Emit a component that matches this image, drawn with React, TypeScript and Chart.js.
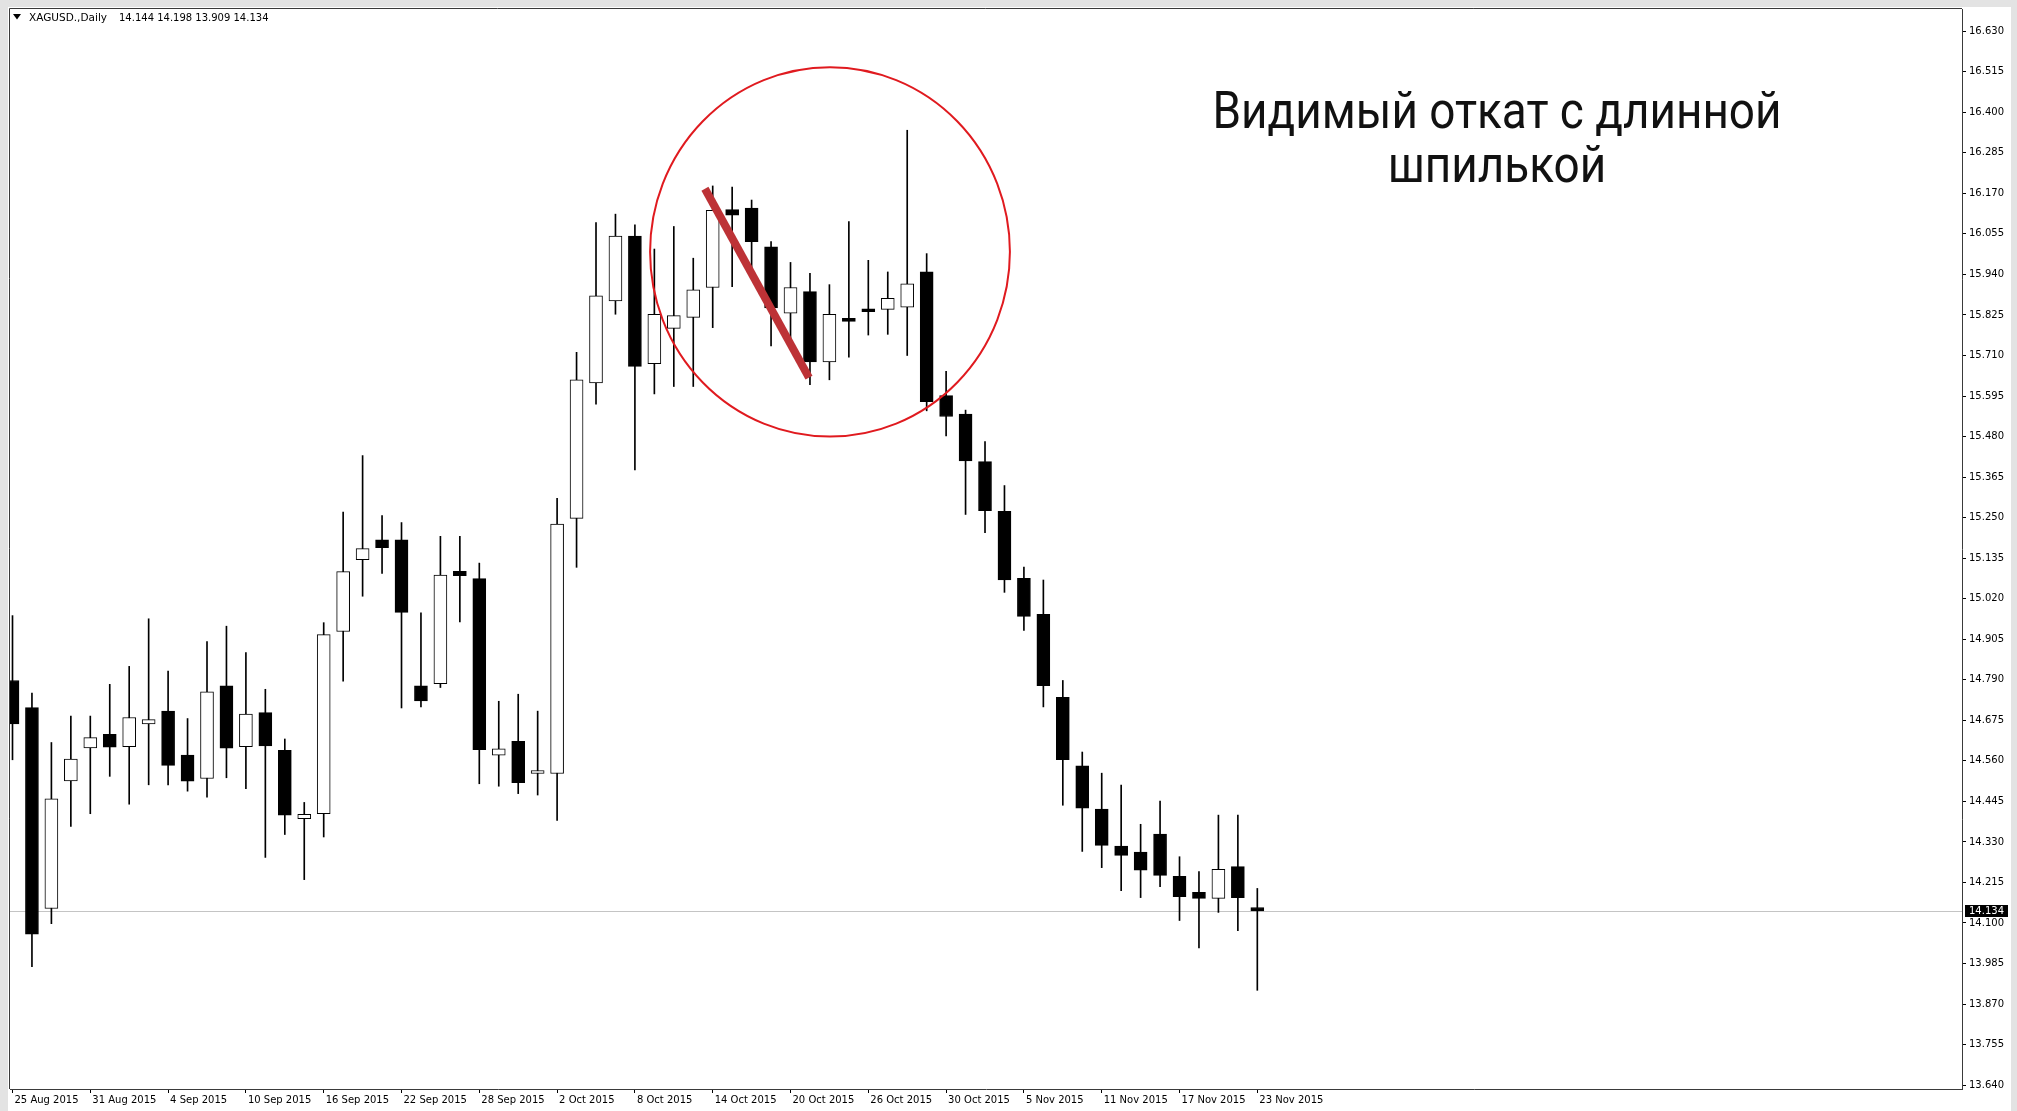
import React, { useEffect, useRef } from 'react';
import { Chart, registerables } from 'chart.js';

Chart.register(...registerables);

// ---- Data (XAGUSD daily, 25 Aug 2015 – 23 Nov 2015, one entry per trading day) ----
const OPEN = [
  14.788, 14.711, 14.141, 14.503, 14.597, 14.635, 14.600, 14.665, 14.701, 14.576,
  14.510, 14.773, 14.600, 14.697, 14.590, 14.396, 14.410, 14.927, 15.131, 15.187,
  15.187, 14.773, 14.779, 15.098, 15.077, 14.576, 14.615, 14.524, 14.524, 15.248,
  15.632, 15.865, 16.049, 15.687, 15.787, 15.818, 15.903, 16.124, 16.128, 16.018,
  15.830, 15.891, 15.692, 15.815, 15.839, 15.841, 15.847, 15.947, 15.596, 15.544,
  15.409, 15.268, 15.078, 14.976, 14.740, 14.546, 14.423, 14.318, 14.301, 14.352,
  14.232, 14.187, 14.170, 14.260, 14.144,
];
const HIGH = [
  14.972, 14.752, 14.612, 14.687, 14.687, 14.777, 14.828, 14.963, 14.815, 14.680,
  14.898, 14.942, 14.867, 14.763, 14.622, 14.442, 14.952, 15.266, 15.426, 15.256,
  15.236, 14.980, 15.197, 15.197, 15.121, 14.729, 14.749, 14.701, 15.305, 15.719,
  16.087, 16.111, 16.081, 16.012, 16.076, 15.986, 16.191, 16.188, 16.151, 16.033,
  15.974, 15.943, 15.911, 16.090, 15.980, 15.947, 16.349, 15.999, 15.665, 15.555,
  15.466, 15.341, 15.110, 15.073, 14.788, 14.585, 14.525, 14.491, 14.380, 14.446,
  14.288, 14.246, 14.406, 14.406, 14.198,
];
const LOW = [
  14.563, 13.976, 14.098, 14.374, 14.410, 14.516, 14.437, 14.492, 14.492, 14.474,
  14.457, 14.512, 14.481, 14.286, 14.351, 14.223, 14.344, 14.786, 15.027, 15.092,
  14.710, 14.713, 14.768, 14.954, 14.495, 14.488, 14.467, 14.463, 14.391, 15.109,
  15.572, 15.827, 15.385, 15.601, 15.622, 15.622, 15.789, 15.905, 15.950, 15.737,
  15.750, 15.627, 15.641, 15.705, 15.768, 15.770, 15.710, 15.553, 15.482, 15.259,
  15.207, 15.038, 14.930, 14.713, 14.434, 14.303, 14.257, 14.192, 14.172, 14.203,
  14.107, 14.029, 14.130, 14.078, 13.909,
];
const CLOSE = [
  14.665, 14.068, 14.452, 14.565, 14.626, 14.599, 14.683, 14.677, 14.547, 14.502,
  14.756, 14.596, 14.693, 14.602, 14.406, 14.408, 14.918, 15.097, 15.162, 15.165,
  14.981, 14.730, 15.087, 15.085, 14.592, 14.594, 14.498, 14.532, 15.232, 15.641,
  15.879, 16.049, 15.679, 15.827, 15.823, 15.896, 16.122, 16.108, 16.033, 15.845,
  15.903, 15.692, 15.827, 15.807, 15.834, 15.872, 15.913, 15.579, 15.537, 15.411,
  15.270, 15.073, 14.970, 14.773, 14.563, 14.426, 14.320, 14.292, 14.250, 14.235,
  14.175, 14.170, 14.252, 14.172, 14.134,
];

const DATE_TICK_INDEX = [0, 4, 8, 12, 16, 20, 24, 28, 32, 36, 40, 44, 48, 52, 56, 60, 64];
const DATE_TICK_LABELS = [
  '25 Aug 2015', '31 Aug 2015', '4 Sep 2015', '10 Sep 2015', '16 Sep 2015', '22 Sep 2015',
  '28 Sep 2015', '2 Oct 2015', '8 Oct 2015', '14 Oct 2015', '20 Oct 2015', '26 Oct 2015',
  '30 Oct 2015', '5 Nov 2015', '11 Nov 2015', '17 Nov 2015', '23 Nov 2015',
];
const PRICE_TICKS = [
  13.640, 13.755, 13.870, 13.985, 14.100, 14.215, 14.330, 14.445, 14.560, 14.675,
  14.790, 14.905, 15.020, 15.135, 15.250, 15.365, 15.480, 15.595, 15.710, 15.825,
  15.940, 16.055, 16.170, 16.285, 16.400, 16.515, 16.630,
];

const SYMBOL_TITLE = 'XAGUSD.,Daily';
const ANNOTATION_LINES = ['Видимый откат с длинной', 'шпилькой'];
// annotation marks in data units (bar index, price)
const RETRACE_FROM = { x: 35.6, y: 16.183 };
const RETRACE_TO = { x: 40.95, y: 15.647 };
const CIRCLE_CENTER = { x: 42.03, y: 16.004 };
const CIRCLE_RADIUS = { x: 9.25, y: 0.524 };

const X_MIN = -0.1285;
const X_MAX = 100.23;
const Y_MIN = 13.629;
const Y_MAX = 16.693;

const AXIS_FONT = '"DejaVu Sans", sans-serif';
const BORDER = '#3a3a3a';

export default function App() {
  const ref = useRef<HTMLCanvasElement>(null);

  useEffect(() => {
    const canvas = ref.current;
    if (!canvas) return;
    const n = OPEN.length;
    const last = n - 1;

    const background = {
      id: 'mt4Background',
      beforeDraw(chart: any) {
        const ctx = chart.ctx;
        ctx.save();
        ctx.fillStyle = '#e3e3e3';
        ctx.fillRect(0, 0, chart.width, chart.height);
        ctx.fillStyle = '#ffffff';
        ctx.fillRect(8, 7, 2011 - 8, chart.height - 7);
        ctx.restore();
      },
      beforeDatasetsDraw(chart: any) {
        const ctx = chart.ctx;
        const a = chart.chartArea;
        const y = Math.round(chart.scales.y.getPixelForValue(CLOSE[last])) + 0.5;
        ctx.save();
        ctx.strokeStyle = '#c4c4c4';
        ctx.lineWidth = 1;
        ctx.beginPath();
        ctx.moveTo(a.left, y);
        ctx.lineTo(a.right, y);
        ctx.stroke();
        ctx.restore();
      },
    };

    const overlay = {
      id: 'mt4Overlay',
      afterDraw(chart: any) {
        const ctx = chart.ctx;
        const a = chart.chartArea;
        const xs = chart.scales.x;
        const ys = chart.scales.y;
        ctx.save();
        // top & left plot borders
        ctx.strokeStyle = BORDER;
        ctx.lineWidth = 1;
        ctx.beginPath();
        ctx.moveTo(a.left - 0.5, a.bottom);
        ctx.lineTo(a.left - 0.5, a.top - 0.5);
        ctx.lineTo(a.right, a.top - 0.5);
        ctx.stroke();

        // red circle
        ctx.save();
        ctx.beginPath();
        ctx.rect(a.left, a.top, a.right - a.left, a.bottom - a.top);
        ctx.clip();
        const cx = xs.getPixelForValue(CIRCLE_CENTER.x);
        const cy = ys.getPixelForValue(CIRCLE_CENTER.y);
        const rx = xs.getPixelForValue(CIRCLE_CENTER.x + CIRCLE_RADIUS.x) - cx;
        const ry = cy - ys.getPixelForValue(CIRCLE_CENTER.y + CIRCLE_RADIUS.y);
        ctx.strokeStyle = '#e01a1f';
        ctx.lineWidth = 2;
        ctx.beginPath();
        ctx.ellipse(cx, cy, rx, ry, 0, 0, Math.PI * 2);
        ctx.stroke();
        // thick retrace line
        ctx.strokeStyle = '#bd3236';
        ctx.lineWidth = 8;
        ctx.lineCap = 'butt';
        ctx.beginPath();
        ctx.moveTo(xs.getPixelForValue(RETRACE_FROM.x), ys.getPixelForValue(RETRACE_FROM.y));
        ctx.lineTo(xs.getPixelForValue(RETRACE_TO.x), ys.getPixelForValue(RETRACE_TO.y));
        ctx.stroke();
        ctx.restore();

        // header
        ctx.fillStyle = '#000';
        ctx.beginPath();
        ctx.moveTo(13, 14);
        ctx.lineTo(21, 14);
        ctx.lineTo(17, 19.5);
        ctx.closePath();
        ctx.fill();
        ctx.textBaseline = 'alphabetic';
        ctx.textAlign = 'left';
        ctx.font = '10.5px ' + AXIS_FONT;
        ctx.fillText(SYMBOL_TITLE, 29, 21);
        ctx.font = '10px ' + AXIS_FONT;
        const ohlc = [OPEN[last], HIGH[last], LOW[last], CLOSE[last]].map((v) => v.toFixed(3)).join(' ');
        ctx.fillText(ohlc, 119, 21);

        // current price tag on the price axis
        const py = Math.round(ys.getPixelForValue(CLOSE[last]));
        ctx.fillStyle = '#000';
        ctx.fillRect(a.right + 3, py - 6, 43, 12);
        ctx.fillStyle = '#fff';
        ctx.textBaseline = 'middle';
        ctx.fillText(CLOSE[last].toFixed(3), a.right + 7, py + 0.5);

        // annotation text
        ctx.fillStyle = '#111';
        ctx.font = '52px Roboto, "Liberation Sans", Arial, sans-serif';
        ctx.textAlign = 'center';
        ctx.textBaseline = 'alphabetic';
        const w1 = ctx.measureText(ANNOTATION_LINES[0]).width;
        const sx = 569 / w1;
        ctx.translate(1497, 0);
        ctx.scale(sx, 1);
        ctx.fillText(ANNOTATION_LINES[0], 0, 128);
        ctx.fillText(ANNOTATION_LINES[1], 0, 182);
        ctx.restore();
      },
    };

    const idx = OPEN.map((_, i) => i);

    const chart = new Chart(canvas, {
      type: 'bar',
      data: {
        datasets: [
          {
            label: 'body',
            data: idx.map((i) => ({ x: i, y: [OPEN[i], CLOSE[i]] })) as any,
            backgroundColor: idx.map((i) => (CLOSE[i] >= OPEN[i] ? '#ffffff' : '#000000')),
            borderColor: '#000000',
            borderWidth: 1,
            borderSkipped: false,
            barThickness: 13,
            minBarLength: 3,
            grouped: false,
            order: 0,
          } as any,
          {
            label: 'wick',
            data: idx.map((i) => ({ x: i, y: [LOW[i], HIGH[i]] })) as any,
            backgroundColor: '#000000',
            borderWidth: 0,
            barThickness: 1,
            grouped: false,
            order: 1,
          } as any,
        ],
      },
      options: {
        animation: false,
        responsive: false,
        devicePixelRatio: 1,
        events: [],
        layout: { padding: { left: 10, top: 8, right: 0, bottom: 0 }, autoPadding: false } as any,
        plugins: { legend: { display: false }, tooltip: { enabled: false }, title: { display: false } },
        scales: {
          x: {
            type: 'linear',
            min: X_MIN,
            max: X_MAX,
            offset: false,
            bounds: 'data',
            grid: { drawOnChartArea: false, drawTicks: true, tickLength: 4, color: '#000', offset: false },
            border: { display: true, color: BORDER, width: 1 },
            ticks: {
              autoSkip: false,
              maxRotation: 0,
              minRotation: 0,
              align: 'start',
              labelOffset: 2,
              padding: 1,
              color: '#000',
              font: { family: AXIS_FONT, size: 10 },
              callback: (v: any) => {
                const k = DATE_TICK_INDEX.indexOf(Number(v));
                return k >= 0 ? DATE_TICK_LABELS[k] : '';
              },
            },
            afterBuildTicks: (scale: any) => {
              scale.ticks = DATE_TICK_INDEX.map((v) => ({ value: v }));
            },
            afterFit: (scale: any) => {
              scale.height = 22;
            },
          } as any,
          y: {
            type: 'linear',
            position: 'right',
            min: Y_MIN,
            max: Y_MAX,
            beginAtZero: false,
            bounds: 'data',
            grid: { drawOnChartArea: false, drawTicks: true, tickLength: 4, color: '#000' },
            border: { display: true, color: BORDER, width: 1 },
            ticks: {
              padding: 3,
              color: '#000',
              font: { family: AXIS_FONT, size: 10 },
              callback: (v: any) => Number(v).toFixed(3),
            },
            afterBuildTicks: (scale: any) => {
              scale.ticks = PRICE_TICKS.map((v) => ({ value: v }));
            },
            afterFit: (scale: any) => {
              scale.width = 55;
            },
          } as any,
        },
      },
      plugins: [background, overlay],
    });

    return () => chart.destroy();
  }, []);

  return (
    <div style={{ position: 'absolute', left: 0, top: 0, width: 2017, height: 1111 }}>
      <canvas ref={ref} width={2017} height={1111} style={{ display: 'block', width: '2017px', height: '1111px' }} />
    </div>
  );
}
